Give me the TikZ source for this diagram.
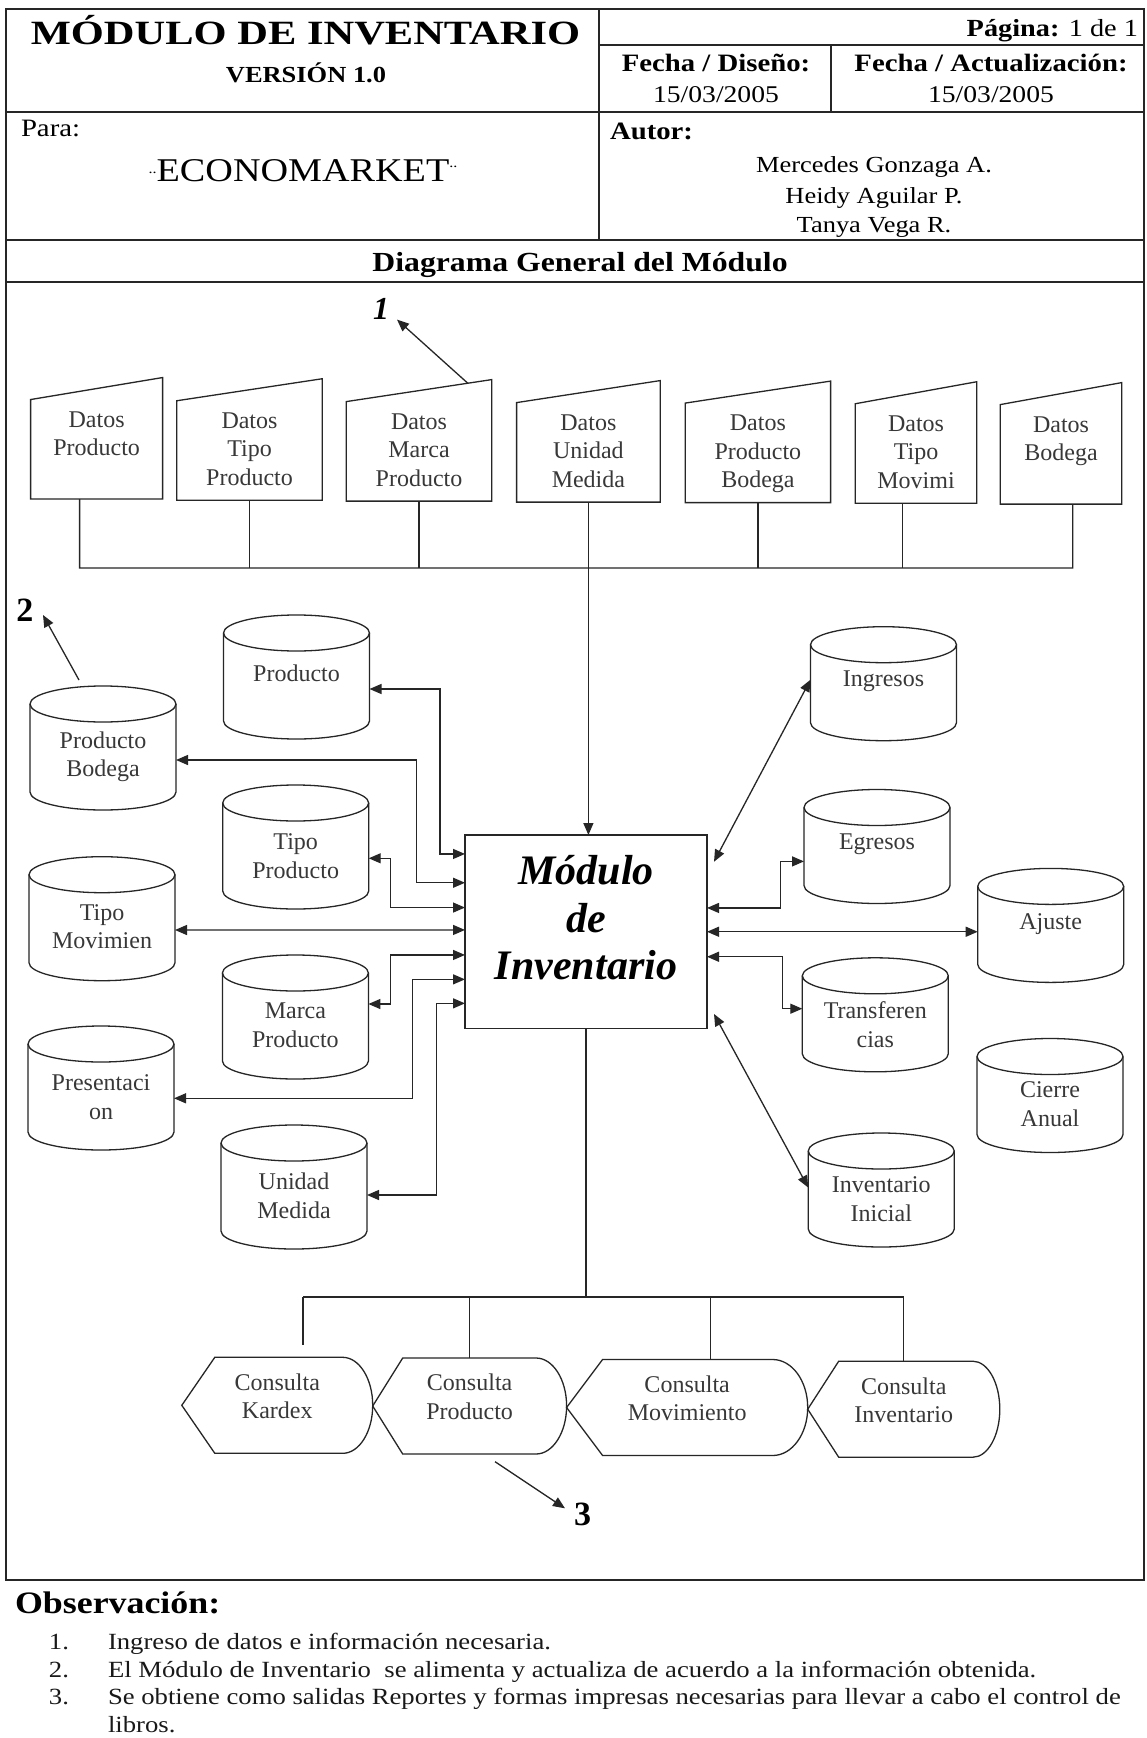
\documentclass[tikz,border=0pt]{standalone}
\usepackage{fontspec}
\setmainfont{Liberation Serif}
\newfontfamily\hdfont[FakeStretch=1.15]{Liberation Serif}
\newfontfamily\ttlfont[FakeStretch=1.25]{Liberation Serif}
\usetikzlibrary{arrows.meta,calc}

% cylinder outline drawn on an (invisible) node
\newcommand\cyl[1]{%
  \draw[ln] ([yshift=-9pt]#1.north west) -- ([yshift=9pt]#1.south west)
     arc[start angle=180,end angle=360,x radius=36.5pt,y radius=9pt]
     -- ([yshift=-9pt]#1.north east);
  \draw[ln] ([yshift=-9pt]#1.north) ellipse [x radius=36.5pt,y radius=9pt];}
% manual-input (slanted top) box
\newcommand\datbox[1]{%
  \draw[ln] ([yshift=-11pt]#1.north west) -- (#1.north east) -- (#1.south east)
     -- (#1.south west) -- cycle;}
% display shape
\newcommand\consult[3]{%
  \draw[ln] (#1.west) -- ([xshift=#2]#1.north west) -- ([xshift=-#3]#1.north east)
     .. controls ([xshift=-0.448*#3]#1.north east) and ([yshift=13.25pt]#1.east) .. (#1.east)
     .. controls ([yshift=-13.25pt]#1.east) and ([xshift=-0.448*#3]#1.south east) .. ([xshift=-#3]#1.south east)
     -- ([xshift=#2]#1.south west) -- cycle;}

\tikzset{
  every node/.style={inner sep=0pt,outer sep=0pt},
  ln/.style={line width=0.65pt,draw=black!85},
  hl/.style={line width=0.8pt,draw=black!85},
  bl/.style={line width=1.2pt,draw=black!85},
  arr/.style={ln,-{Triangle[length=6pt,width=5pt]}},
  barr/.style={ln,{Triangle[length=6pt,width=5pt]}-{Triangle[length=6pt,width=5pt]}},
  lbl/.style={font=\fontsize{12}{14.25}\selectfont,align=center,text=black!78},
  dat/.style={minimum height=60.75pt},
  dbL/.style={minimum width=73pt,minimum height=62pt},
  dbR/.style={minimum width=73pt,minimum height=57pt},
  cons/.style={minimum height=48pt},
  obsf/.style={font=\hdfont\fontsize{11.6}{14}\selectfont,text=black!90},
}

\begin{document}
\begin{tikzpicture}[x=0.5pt,y=-0.5pt]
\useasboundingbox (0,0) rectangle (1146,1738);
\fill[white] (0,0) rectangle (1146,1738);

% ---------------- header frame ----------------
\draw[hl] (6,9) rectangle (1144,1580);
\draw[hl] (599,9) -- (599,240);
\draw[hl] (599,45) -- (1144,45);
\draw[hl] (831,45) -- (831,113);
\draw[hl] (6,112) -- (1144,112);
\draw[bl] (6,240) -- (1144,240);
\draw[bl] (6,282) -- (1144,282);
\draw[hl] (6,1580) -- (1144,1580);

\node[anchor=base,font=\ttlfont\bfseries\fontsize{17}{20}\selectfont] (title) at (305.5,45) {MÓDULO DE INVENTARIO};
\node[anchor=base,font=\hdfont\bfseries\fontsize{11.5}{13}\selectfont] (ver) at (306,83) {VERSIÓN 1.0};
\node[anchor=base east,font=\hdfont\fontsize{12.3}{14}\selectfont] (pag) at (1138,37) {\textbf{Página:} 1 de 1};
\node[anchor=base,font=\hdfont\bfseries\fontsize{12.5}{14}\selectfont] (fd) at (716,72) {Fecha / Diseño:};
\node[anchor=base,font=\hdfont\fontsize{12}{14}\selectfont] (fdv) at (716,103) {15/03/2005};
\node[anchor=base,font=\hdfont\bfseries\fontsize{12.5}{14}\selectfont] (fa) at (991,72) {Fecha / Actualización:};
\node[anchor=base,font=\hdfont\fontsize{12}{14}\selectfont] (fav) at (991,103) {15/03/2005};
\node[anchor=base west,font=\hdfont\fontsize{12.5}{14}\selectfont] (para) at (21,137) {Para:};
\node[anchor=base,font=\hdfont\fontsize{16.6}{18}\selectfont] (eco) at (303,182)
  {\raisebox{.25em}{\fontsize{7}{7}\selectfont..}ECONOMARKET\raisebox{.45em}{\fontsize{7}{7}\selectfont..}};
\node[anchor=base west,font=\hdfont\bfseries\fontsize{12.5}{14}\selectfont] (autor) at (610,140) {Autor:};
\node[anchor=base,font=\hdfont\fontsize{11.5}{14}\selectfont] (a1) at (874,173) {Mercedes Gonzaga A.};
\node[anchor=base,font=\hdfont\fontsize{11.5}{14}\selectfont] (a2) at (874,204) {Heidy Aguilar P.};
\node[anchor=base,font=\hdfont\fontsize{11.5}{14}\selectfont] (a3) at (874,233) {Tanya Vega R.};
\node[anchor=base,font=\hdfont\bfseries\fontsize{13.8}{16}\selectfont] (dg) at (580,271.7) {Diagrama General del Módulo};

% ---------------- data input boxes ----------------
\node[dat,minimum width=66pt]    (d1) at (96.6,438.3) {};
\node[dat,minimum width=72.7pt]  (d2) at (249.5,439.5) {};
\node[dat,minimum width=72.75pt] (d3) at (419,440.35) {};
\node[dat,minimum width=71.8pt]  (d4) at (588.4,441.35) {};
\node[dat,minimum width=72.7pt]  (d5) at (757.9,441.85) {};
\node[dat,minimum width=60.75pt] (d6) at (916,442.5) {};
\node[dat,minimum width=60.75pt] (d7) at (1061,443.35) {};
\foreach \n in {d1,d2,d3,d4,d5,d6,d7} {\datbox{\n}}
\node[lbl,anchor=north] (d1t) at ([yshift=-17pt]d1.north) {Datos\\Producto};
\node[lbl,anchor=north] (d2t) at ([yshift=-17pt]d2.north) {Datos\\Tipo\\Producto};
\node[lbl,anchor=north] (d3t) at ([yshift=-17pt]d3.north) {Datos\\Marca\\Producto};
\node[lbl,anchor=north] (d4t) at ([yshift=-17pt]d4.north) {Datos\\Unidad\\Medida};
\node[lbl,anchor=north] (d5t) at ([yshift=-17pt]d5.north) {Datos\\Producto\\Bodega};
\node[lbl,anchor=north] (d6t) at ([yshift=-17pt]d6.north) {Datos\\Tipo\\Movimi};
\node[lbl,anchor=north] (d7t) at ([yshift=-17pt]d7.north) {Datos\\Bodega};

% ---------------- central module ----------------
\node[ln,minimum width=121pt,minimum height=96.75pt] (mod) at (586,931.75) {};
\node[font=\bfseries\itshape\fontsize{21}{23.75}\selectfont,align=center] (modt)
  at ([yshift=6.9pt]mod.center) {Módulo\\de\\Inventario};

% input bus
\coordinate (busL) at (79.6,568);
\coordinate (busR) at (1072.7,568);
\path ([xshift=-6.65pt]d6.south) coordinate (d6o);
\draw[ln] ([xshift=-8.5pt]d1.south) -- (busL) -- (busR) -- ([xshift=5.85pt]d7.south);
\draw[ln] (d2.south) -- (d2.south |- busL);
\draw[ln] (d3.south) -- (d3.south |- busL);
\draw[ln] (d5.south) -- (d5.south |- busL);
\draw[ln] (d6o) -- (d6o |- busL);
\draw[arr] (d4.south) -- (d4.south |- mod.north);

% ---------------- data stores ----------------
\node[dbL] (p)  at (296.5,677) {};
\node[dbL] (pb) at (103,748) {};
\node[dbL] (tp) at (295.7,847) {};
\node[dbL] (tm) at (102,918.7) {};
\node[dbL] (mp) at (295.4,1017) {};
\node[dbL] (pr) at (101,1088) {};
\node[dbL] (um) at (294,1187) {};
\node[dbR] (ing) at (883.5,683.7) {};
\node[dbR] (eg)  at (877,846.5) {};
\node[dbR] (aj)  at (1050.7,925.4) {};
\node[dbR] (tr)  at (875.3,1014.8) {};
\node[dbR] (ca)  at (1050,1095.5) {};
\node[dbR] (ii)  at (881.25,1190) {};
\foreach \n in {p,pb,tp,tm,mp,pr,um,ing,eg,aj,tr,ca,ii} {\cyl{\n}}

\node[lbl] (pt)   at ([yshift=2pt]p.center)    {Producto};
\node[lbl] (pbt)  at ([yshift=-4.5pt]pb.center) {Producto\\Bodega};
\node[lbl] (tpt)  at ([yshift=-4.5pt]tp.center) {Tipo\\Producto};
\node[lbl] (tmt)  at ([yshift=-4pt]tm.center)   {Tipo\\Movimien};
\node[lbl] (mpt)  at ([yshift=-4pt]mp.center)   {Marca\\Producto};
\node[lbl] (prt)  at ([yshift=-4.5pt]pr.center) {Presentaci\\on};
\node[lbl] (umt)  at ([yshift=-4.5pt]um.center) {Unidad\\Medida};
\node[lbl] (ingt) at ([yshift=1pt]ing.center)   {Ingresos};
\node[lbl] (egt)  at ([yshift=1.35pt]eg.center) {Egresos};
\node[lbl] (ajt)  at ([yshift=0.5pt]aj.center)  {Ajuste};
\node[lbl] (trt)  at ([yshift=-4.85pt]tr.center) {Transferen\\cias};
\node[lbl] (cat)  at ([yshift=-4.25pt]ca.center) {Cierre\\Anual};
\node[lbl] (iit)  at ([yshift=-4.5pt]ii.center) {Inventario\\Inicial};

% left connections
\draw[barr] ([yshift=-6pt]p.east) -| ([xshift=-12.5pt,yshift=38.9pt]mod.west) -- ([yshift=38.9pt]mod.west);
\draw[barr] ([yshift=-6pt]pb.east) -| ([xshift=-24.3pt,yshift=24.5pt]mod.west) -- ([yshift=24.5pt]mod.west);
\draw[barr] ([yshift=-5.65pt]tp.east) -| ([xshift=-37.35pt,yshift=12.1pt]mod.west) -- ([yshift=12.1pt]mod.west);
\draw[barr] ([yshift=-5.65pt]tm.east) -- ([yshift=0.9pt]mod.west);
\draw[barr] ([yshift=6.5pt]mp.east) -| ([xshift=-37.35pt,yshift=-11.6pt]mod.west) -- ([yshift=-11.6pt]mod.west);
\draw[barr] ([yshift=-5.15pt]pr.east) -| ([xshift=-26.25pt,yshift=-23.8pt]mod.west) -- ([yshift=-23.8pt]mod.west);
\draw[barr] ([yshift=-4pt]um.east) -| ([xshift=-14.35pt,yshift=-35.8pt]mod.west) -- ([yshift=-35.8pt]mod.west);

% right connections
\draw[barr] ([xshift=3.5pt,yshift=35pt]mod.east) -- ([yshift=2pt]ing.west);
\draw[barr] ([yshift=11.9pt]mod.east) -- ([xshift=36.75pt,yshift=11.9pt]mod.east) |- ([yshift=-7.45pt]eg.west);
\draw[barr] (mod.east) -- (mod.east -| aj.west);
\draw[barr] ([yshift=-12.5pt]mod.east) -- ([xshift=37.7pt,yshift=-12.5pt]mod.east) |- ([yshift=3.05pt]tr.west);
\draw[barr] ([xshift=3.5pt,yshift=-41.1pt]mod.east) -- ([yshift=1.2pt]ii.west);

% ---------------- outputs ----------------
\node[cons,minimum width=95.45pt]  (k1) at (277.25,1405.3) {};
\node[cons,minimum width=96.95pt]  (k2) at (469.65,1406) {};
\node[cons,minimum width=120.55pt] (k3) at (687.15,1407.5) {};
\node[cons,minimum width=96.05pt]  (k4) at (903.75,1409.2) {};
\consult{k1}{16.5pt}{15pt}
\consult{k2}{15pt}{15.3pt}
\consult{k3}{18pt}{17.5pt}
\consult{k4}{15.5pt}{13.5pt}
\node[lbl] (k1t) at ([yshift=4.5pt]k1.center) {Consulta\\Kardex};
\node[lbl] (k2t) at ([yshift=4.5pt]k2.center) {Consulta\\Producto};
\node[lbl] (k3t) at ([yshift=4.5pt]k3.center) {Consulta\\Movimiento};
\node[lbl] (k4t) at ([yshift=4.5pt]k4.center) {Consulta\\Inventario};

\coordinate (kbusL) at (303,1297);
\path ([yshift=6pt]k1.north) coordinate (k1top);
\path ([xshift=11.8pt]k3.north) coordinate (k3o);
\draw[ln] (mod.south) -- (mod.south |- kbusL);
\draw[ln] (kbusL) -- (k4.north |- kbusL);
\draw[ln] (kbusL) -- (kbusL |- k1top);
\draw[ln] (k2.north |- kbusL) -- (k2.north);
\draw[ln] (k3o |- kbusL) -- (k3o);
\draw[ln] (k4.north |- kbusL) -- (k4.north);

% ---------------- annotation numbers ----------------
\node[font=\bfseries\itshape\fontsize{16}{16}\selectfont] (n1) at (381,309) {1};
\node[font=\bfseries\fontsize{17}{17}\selectfont] (n2) at (25,610) {2};
\node[font=\bfseries\fontsize{17}{17}\selectfont] (n3) at (582.5,1514) {3};
\draw[arr] ([xshift=-12pt,yshift=-1.8pt]d3.north east) -- ([xshift=4pt]n1.south east);
\draw[arr] ([xshift=-12pt,yshift=3pt]pb.north) -- ([xshift=4.75pt,yshift=-2.5pt]n2.east);
\draw[arr] ([xshift=12.7pt,yshift=-3.85pt]k2.south) -- ([xshift=-4.5pt,yshift=2.85pt]n3.west);

% ---------------- observations ----------------
\node[anchor=base west,font=\hdfont\bfseries\fontsize{15.6}{17}\selectfont] (obs) at (15,1613) {Observación:};
\node[obsf,anchor=base east] (o1n) at (69,1649) {1.};
\node[obsf,anchor=base west] (o1)  at (108,1649) {Ingreso de datos e información necesaria.};
\node[obsf,anchor=base east] (o2n) at (69,1677) {2.};
\node[obsf,anchor=base west] (o2)  at (108,1677) {El Módulo de Inventario\ \ se alimenta y actualiza de acuerdo a la información obtenida.};
\node[obsf,anchor=base east] (o3n) at (69,1704) {3.};
\node[obsf,anchor=base west] (o3)  at (108,1704) {Se obtiene como salidas Reportes y formas impresas necesarias para llevar a cabo el control de};
\node[obsf,anchor=base west] (o4)  at (108,1732) {libros.};
\end{tikzpicture}
\end{document}
